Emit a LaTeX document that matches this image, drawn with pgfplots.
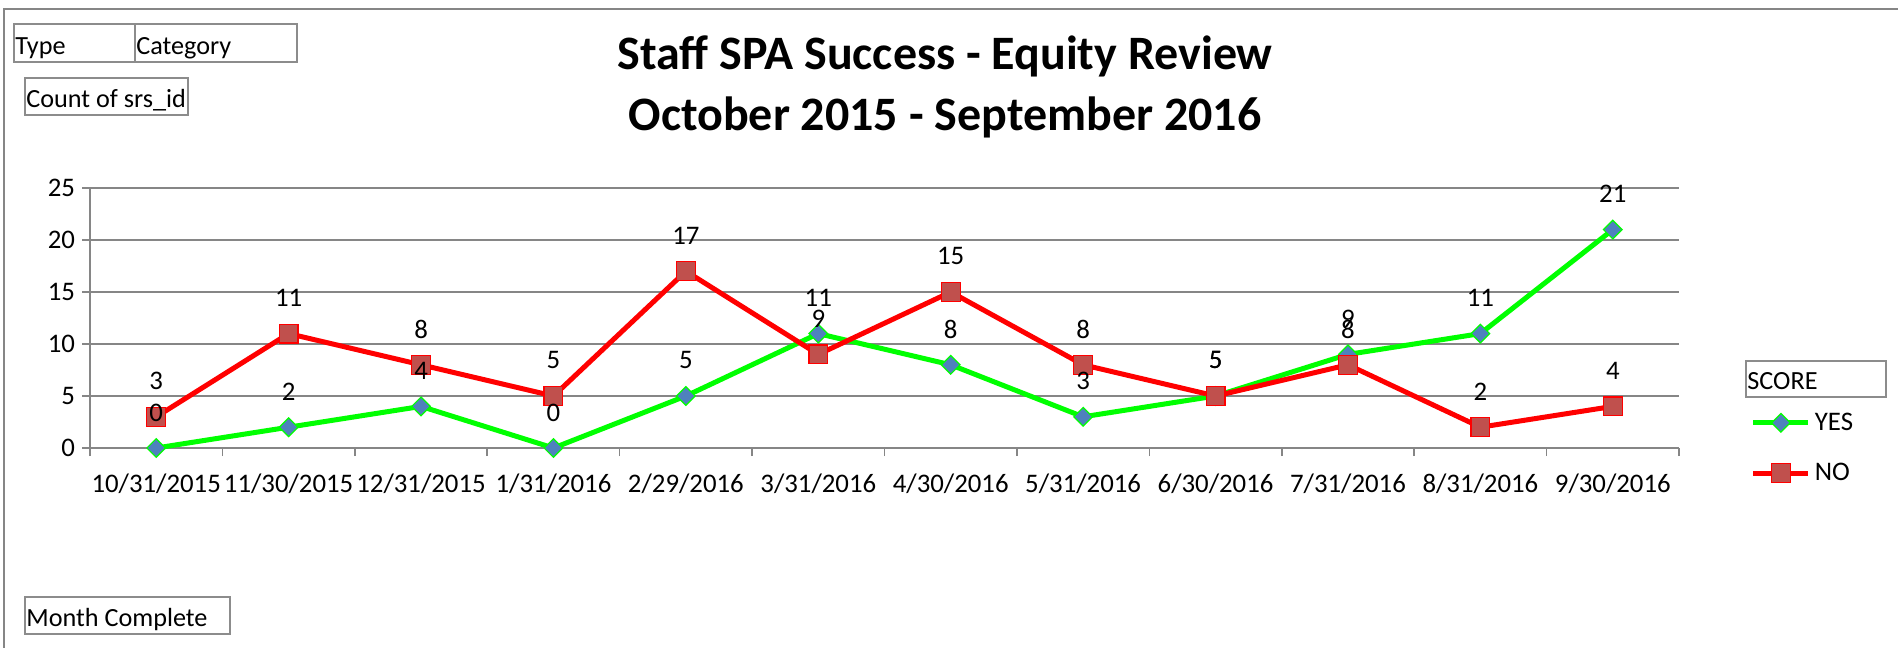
\documentclass[border=0pt]{standalone}
\usepackage{fontspec}
\setmainfont{Carlito}
\usepackage{pgfplots}
\usepackage{pgfplotstable}
\pgfplotsset{compat=1.18}
\definecolor{axgray}{RGB}{134,134,134}
\definecolor{boxgray}{RGB}{140,140,140}
\definecolor{ygreen}{RGB}{0,255,0}
\definecolor{nred}{RGB}{255,0,0}
\definecolor{yfill}{RGB}{79,129,189}
\definecolor{nfill}{RGB}{192,80,77}
\pgfplotstableread{
x yes no
0 0 3
1 2 11
2 4 8
3 0 5
4 5 17
5 11 9
6 8 15
7 3 8
8 5 5
9 9 8
10 11 2
11 21 4
}\datatable
\newcommand{\lbl}{\fontsize{13.4}{16}\selectfont}
\newcommand{\bxf}{\fontsize{13.1}{16}\selectfont}
\begin{document}
\begin{tikzpicture}
\path[use as bounding box] (0,0) rectangle (949pt,-323.5pt);
% outer frame
\draw[axgray, line width=1pt] (2pt,-330pt) -- (2pt,-4.5pt) -- (955pt,-4.5pt);
% field buttons
\draw[boxgray, line width=0.9pt] (7pt,-12pt) rectangle (67.5pt,-31pt);
\draw[boxgray, line width=0.9pt] (67.5pt,-12pt) rectangle (148.5pt,-31pt);
\node[anchor=base west, inner sep=0.5pt, font=\bxf] at (7pt,-27.5pt) {Type};
\node[anchor=base west, inner sep=0.5pt, font=\bxf] at (67.5pt,-27.5pt) {Category};
\draw[boxgray, line width=0.9pt] (12.5pt,-39pt) rectangle (94pt,-57.5pt);
\node[anchor=base west, inner sep=0.5pt, font=\bxf] at (12.5pt,-53.5pt) {Count of srs\_id};
\draw[boxgray, line width=0.9pt] (12.5pt,-298.5pt) rectangle (115pt,-317pt);
\node[anchor=base west, inner sep=0.5pt, font=\bxf] at (12.5pt,-313pt) {Month Complete};
\draw[boxgray, line width=0.9pt] (873pt,-180.5pt) rectangle (943pt,-198.5pt);
\node[anchor=base west, inner sep=0.5pt, font=\bxf] at (873pt,-194.5pt) {SCORE};
% title
\node[font=\fontsize{24}{28}\selectfont\bfseries] at (472.5pt,-28pt) {Staff SPA Success - Equity Review};
\node[font=\fontsize{24}{28}\selectfont\bfseries] at (472.5pt,-58.5pt) {October 2015 - September 2016};
\begin{axis}[
  at={(45pt,-224pt)}, anchor=south west,
  scale only axis, width=794.5pt, height=130pt,
  xmin=-0.5, xmax=11.5, ymin=0, ymax=25,
  ytick={0,5,...,25},
  xtick={0,...,11},
  xticklabels={10/31/2015,11/30/2015,12/31/2015,1/31/2016,2/29/2016,3/31/2016,4/30/2016,5/31/2016,6/30/2016,7/31/2016,8/31/2016,9/30/2016},
  minor xtick={-0.5,0.5,...,11.5},
  major x tick style={draw=none},
  tick align=outside, major tick length=4pt, minor tick length=4pt,
  tick style={axgray, line width=0.8pt},
  axis x line*=bottom, axis y line*=left,
  axis line style={axgray, line width=0.8pt, -},
  ymajorgrids, major grid style={axgray, line width=0.8pt},
  ticklabel style={font=\lbl},
  xticklabel style={yshift=-5.5pt},
  /pgf/number format/assume math mode=true,
  clip=false,
  legend style={at={(1.045,0.0)}, anchor=west, draw=none, fill=none, font=\lbl, row sep=11pt, inner sep=0pt},
  legend cell align=left,
  legend image code/.code={\draw[mark repeat=2,mark phase=2] plot coordinates {(0pt,0pt)(13.75pt,0pt)(27.5pt,0pt)};},
]
\addplot[ygreen, line width=2.5pt, mark=square*, mark size=3.3pt, mark options={rotate=45, fill=yfill, draw=ygreen, line width=0.6pt}] table[x=x, y=yes] {\datatable};
\addlegendentry{YES}
\addplot[nred, line width=2.5pt, mark=square*, mark size=4.7pt, mark options={fill=nfill, draw=nred, line width=0.6pt}] table[x=x, y=no] {\datatable};
\addlegendentry{NO}
\addplot[draw=none, forget plot, nodes near coords, every node near coord/.style={anchor=center, yshift=17.8pt, font=\lbl, black}] table[x=x, y=yes] {\datatable};
\addplot[draw=none, forget plot, nodes near coords, every node near coord/.style={anchor=center, yshift=17.8pt, font=\lbl, black}] table[x=x, y=no] {\datatable};
\end{axis}
\end{tikzpicture}
\end{document}
